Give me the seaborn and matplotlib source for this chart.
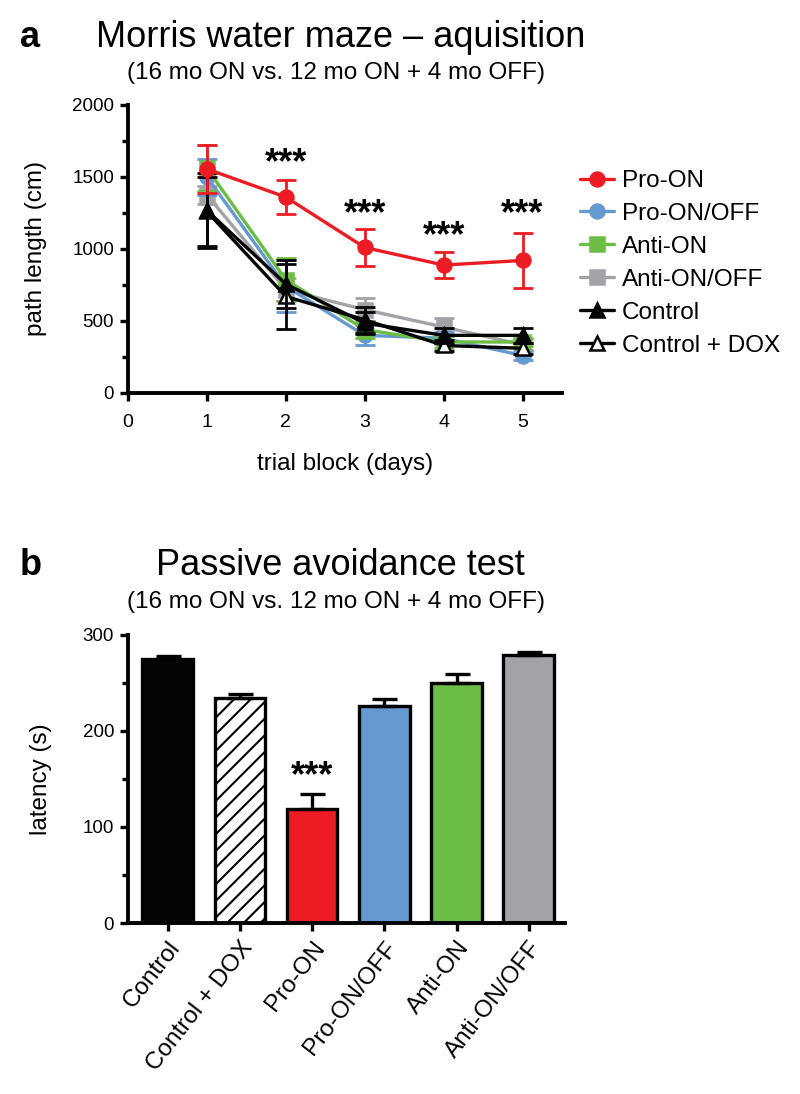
import numpy as np
import pandas as pd
import matplotlib
matplotlib.use('Agg')
import matplotlib.pyplot as plt
import seaborn as sns

# 1. 데이터
days = [1, 2, 3, 4, 5]
groups = ['Pro-ON', 'Pro-ON/OFF', 'Anti-ON', 'Anti-ON/OFF', 'Control', 'Control + DOX']

pro_on = [1555, 1360, 1010, 888, 920]
pro_on_err = [170, 120, 125, 92, 190]
pro_onoff = [1500, 740, 400, 380, 260]
pro_onoff_err = [125, 180, 70, 40, 30]
anti_on = [1560, 786, 440, 354, 354]
anti_on_err = [160, 150, 60, 40, 30]
anti_onoff = [1375, 717, 578, 458, 335]
anti_onoff_err = [60, 80, 80, 60, 40]
control = [1267, 756, 485, 400, 400]
control_err = [260, 165, 75, 50, 50]
control_dox = [1260, 670, 508, 330, 310]
control_dox_err = [240, 225, 90, 40, 40]

star_days = [2, 3, 4, 5]
star_y = [1590, 1240, 1085, 1235]

bar_groups = ['Control', 'Control + DOX', 'Pro-ON', 'Pro-ON/OFF', 'Anti-ON', 'Anti-ON/OFF']
latency = [275, 234, 119, 226, 250, 279]
latency_err = [3, 4, 15, 7, 9, 3]

# 색상
c_red = '#ED1C24'
c_blue = '#6699D0'
c_green = '#6CBD45'
c_gray = '#A3A2A6'
c_black = '#050505'

sns.set_style('ticks')
plt.rcParams['font.family'] = ['Liberation Sans', 'DejaVu Sans']
plt.rcParams['hatch.linewidth'] = 1.5
for k in ['text.color', 'axes.labelcolor', 'xtick.color', 'ytick.color', 'axes.edgecolor']:
    plt.rcParams[k] = 'black'

fig = plt.figure(figsize=(8, 10.94), dpi=100)

# 2. 패널 a - 수중 미로
ax = fig.add_axes([0.16, 0.6408, 0.5425, 0.2633])

series = [
    ('Pro-ON', pro_on, pro_on_err, c_red, 'o', c_red, 6),
    ('Pro-ON/OFF', pro_onoff, pro_onoff_err, c_blue, 'o', c_blue, 3),
    ('Anti-ON', anti_on, anti_on_err, c_green, 's', c_green, 3),
    ('Anti-ON/OFF', anti_onoff, anti_onoff_err, c_gray, 's', c_gray, 2),
    ('Control', control, control_err, c_black, '^', c_black, 5),
    ('Control + DOX', control_dox, control_dox_err, c_black, '^', 'white', 4),
]
for name, vals, err, col, mk, face, z in series:
    ax.errorbar(days, vals, yerr=err, fmt='none', ecolor=col, elinewidth=2,
                capsize=7.5, capthick=2, zorder=z)
    sns.lineplot(x=days, y=vals, ax=ax, color=col, marker=mk, markersize=10,
                 markerfacecolor=face, markeredgecolor=col, markeredgewidth=1.8,
                 linewidth=2.4, label=name, zorder=z)

for d, y in zip(star_days, star_y):
    ax.text(d, y, '***', ha='center', va='center', fontsize=26, fontweight='bold')

ax.set_xlim(0, 5.5)
ax.set_ylim(0, 2000)
ax.set_xticks([0, 1, 2, 3, 4, 5])
ax.set_yticks([0, 500, 1000, 1500, 2000])
ax.set_yticks(np.arange(250, 2000, 500), minor=True)
ax.set_xlabel('trial block (days)', fontsize=17.5, labelpad=16)
ax.set_ylabel('path length (cm)', fontsize=17.5, labelpad=18)
ax.tick_params(labelsize=13.5, width=2.4, length=6, pad=4)
ax.tick_params(axis='x', labelsize=14, pad=9)
ax.tick_params(which='minor', width=2.4, length=4)
for s in ['left', 'bottom']:
    ax.spines[s].set_linewidth(2.8)
sns.despine(ax=ax)

ax.legend(loc='upper left', bbox_to_anchor=(0.99, 0.85), frameon=False,
          fontsize=17.5, handlelength=1.4, handletextpad=0.35, labelspacing=0.45)

fig.text(0.025, 0.966, 'a', fontsize=26, fontweight='bold', va='center')
fig.text(0.426, 0.966, 'Morris water maze – aquisition', fontsize=26, ha='center', va='center')
fig.text(0.42, 0.933, '(16 mo ON vs. 12 mo ON + 4 mo OFF)', fontsize=17.5, ha='center', va='center')

# 3. 패널 b - 수동 회피
ax2 = fig.add_axes([0.16, 0.1563, 0.546, 0.2633])
df = pd.DataFrame({'group': bar_groups, 'latency': latency})
bar_colors = [c_black, 'white', c_red, c_blue, c_green, c_gray]
sns.barplot(data=df, x='group', y='latency', hue='group', palette=bar_colors,
            saturation=1, width=0.7, edgecolor='black', linewidth=2.4, legend=False, ax=ax2)
ax2.patches[1].set_hatch('//')
ax2.errorbar(range(len(bar_groups)), latency, yerr=[np.zeros(len(latency)), latency_err],
             fmt='none', ecolor='black', elinewidth=2.4, capsize=9, capthick=2.4, zorder=1)
ax2.text(2, 152, '***', ha='center', va='center', fontsize=26, fontweight='bold')

ax2.set_xlim(-0.55, 5.5)
ax2.set_ylim(0, 300)
ax2.set_yticks([0, 100, 200, 300])
ax2.set_yticks([50, 150, 250], minor=True)
ax2.set_xlabel('')
ax2.set_ylabel('latency (s)', fontsize=17.5, labelpad=22)
ax2.tick_params(labelsize=13.5, width=2.4, length=6, pad=4)
ax2.tick_params(which='minor', width=2.4, length=4)
ax2.tick_params(axis='x', labelsize=17.5)
for lab in ax2.get_xticklabels():
    lab.set_rotation(52)
    lab.set_ha('right')
    lab.set_rotation_mode('anchor')
for s in ['left', 'bottom']:
    ax2.spines[s].set_linewidth(2.8)
sns.despine(ax=ax2)

fig.text(0.025, 0.483, 'b', fontsize=26, fontweight='bold', va='center')
fig.text(0.426, 0.483, 'Passive avoidance test', fontsize=26, ha='center', va='center')
fig.text(0.42, 0.45, '(16 mo ON vs. 12 mo ON + 4 mo OFF)', fontsize=17.5, ha='center', va='center')

plt.savefig('out.png', dpi=100)
